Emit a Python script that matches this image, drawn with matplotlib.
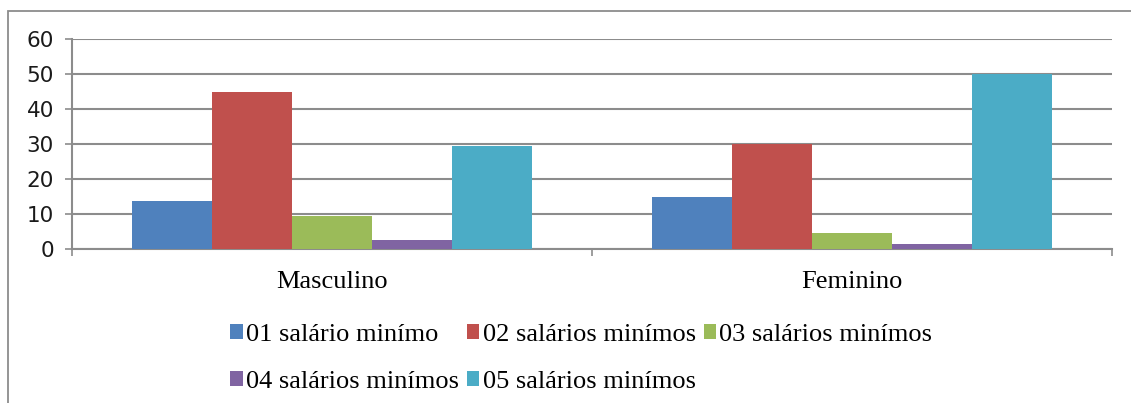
import numpy as np
import matplotlib
matplotlib.use("Agg")
import matplotlib.pyplot as plt
from matplotlib.patches import Rectangle

# Renda por sexo (percentual)
categorias = ["Masculino", "Feminino"]
faixas = ["01 salário minímo", "02 salários minímos", "03 salários minímos",
          "04 salários minímos", "05 salários minímos"]
masculino = [13.6, 44.8, 9.4, 2.7, 29.4]
feminino = [14.8, 30.0, 4.6, 1.5, 50.0]
cores = ["#4F81BD", "#C0504D", "#9BBB59", "#8064A2", "#4BACC6"]
yticks = [0, 10, 20, 30, 40, 50, 60]

W, H = 1131, 403
fig = plt.figure(figsize=(W / 100, H / 100), dpi=100)
ax = fig.add_axes([72 / W, 1 - 249 / H, (1112 - 72) / W, (249 - 39) / H])

# moldura da área do gráfico
fig.patches.append(Rectangle((8 / W, -0.1), 1.2, 1.1 - 11 / H,
                             transform=fig.transFigure, fill=False,
                             edgecolor="#8c8c8c", linewidth=1.3))

grade = "#8c8c8c"
x = np.arange(len(categorias))
largura = 80 / 520
valores = [[masculino[i], feminino[i]] for i in range(len(faixas))]
handles = []
for i, (nome, v) in enumerate(zip(faixas, valores)):
    b = ax.bar(x + (i - 2) * largura, v, largura, color=cores[i], label=nome,
               zorder=3, linewidth=0)
    handles.append(b)

ax.set_xlim(-0.5, 1.5)
ax.set_ylim(0, 60)
ax.set_yticks(yticks)
ax.yaxis.grid(True, color=grade, linewidth=1.5, zorder=0)
ax.set_axisbelow(True)

for s in ["top", "right"]:
    ax.spines[s].set_visible(False)
for s in ["left", "bottom"]:
    ax.spines[s].set_color(grade)
    ax.spines[s].set_linewidth(1.5)

ax.tick_params(axis="y", length=5, width=1.2, color=grade, pad=8,
               labelsize=15.5, labelcolor="#1a1a1a")
ax.set_xticks(x)
ax.set_xticklabels(categorias, fontfamily="Liberation Serif", fontsize=19)
ax.set_xticks([-0.5, 0.5, 1.5], minor=True)
ax.tick_params(axis="x", which="major", length=0, pad=16)
ax.tick_params(axis="x", which="minor", length=5, width=1.2, color=grade)

# legenda em duas linhas (preenchida por linha)
ordem = [0, 3, 1, 4, 2]
leg = fig.legend([handles[i] for i in ordem], [faixas[i] for i in ordem],
                 loc="upper left", bbox_to_anchor=(230 / W, 1 - 324 / H),
                 ncol=3, frameon=False, borderpad=0, borderaxespad=0,
                 prop={"family": "Liberation Serif", "size": 19},
                 handlelength=0.48, handleheight=0.48, handletextpad=0.12,
                 columnspacing=0.3, labelspacing=0.95)

fig.savefig("out.png", dpi=100)
